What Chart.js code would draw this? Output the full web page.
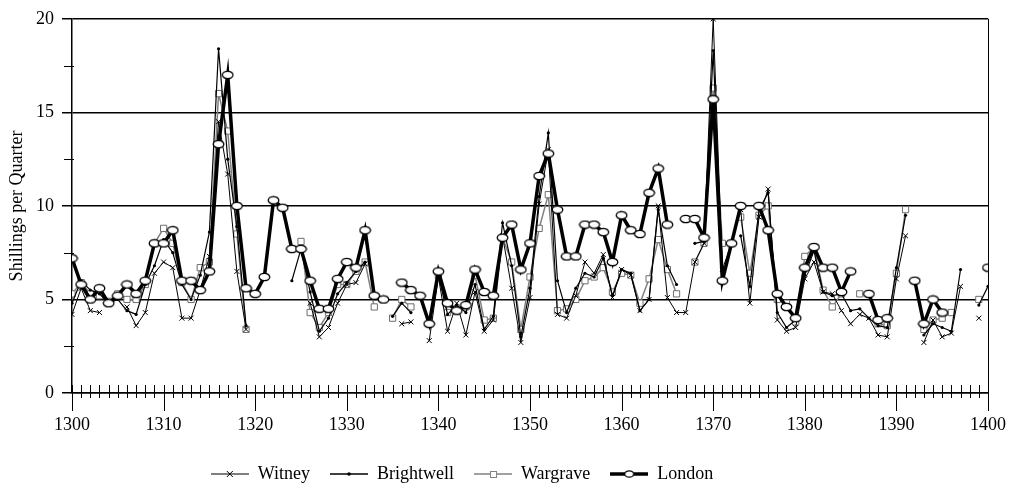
<!DOCTYPE html>
<html>
<head>
<meta charset="utf-8">
<script src="https://cdn.jsdelivr.net/npm/chart.js@4.4.1/dist/chart.umd.min.js"></script>
<style>
html,body{margin:0;padding:0;background:#fff;}
#wrap{width:1015px;height:487px;position:relative;}
#probe{position:absolute;left:-9999px;top:0;font-family:'Liberation Serif';font-size:18px;}
</style>
</head>
<body>
<div id="probe">Shillings per Quarter 1300 Witney</div>
<div id="wrap"><canvas id="c"></canvas></div>
<script>
const years = [1300,1301,1302,1303,1304,1305,1306,1307,1308,1309,
1310,1311,1312,1313,1314,1315,1316,1317,1318,1319,
1320,1321,1322,1323,1324,1325,1326,1327,1328,1329,
1330,1331,1332,1333,1334,1335,1336,1337,1338,1339,
1340,1341,1342,1343,1344,1345,1346,1347,1348,1349,
1350,1351,1352,1353,1354,1355,1356,1357,1358,1359,
1360,1361,1362,1363,1364,1365,1366,1367,1368,1369,
1370,1371,1372,1373,1374,1375,1376,1377,1378,1379,
1380,1381,1382,1383,1384,1385,1386,1387,1388,1389,
1390,1391,1392,1393,1394,1395,1396,1397,1398,1399,1400];

const witney = [4.2,5.6,4.4,4.3,null,null,4.6,3.6,4.3,6.4,
7.0,6.7,4.0,4.0,5.5,7.3,14.5,11.7,6.5,3.4,
null,null,null,null,null,null,4.8,3.0,3.5,4.8,
5.8,5.9,6.9,null,null,null,3.7,3.8,null,2.8,
6.2,3.3,4.8,3.1,5.4,3.3,3.9,8.4,5.6,2.7,
5.1,10.1,13.0,4.2,4.0,5.2,7.0,6.4,7.4,5.1,
6.6,6.3,4.4,5.0,10.0,5.1,4.3,4.3,7.0,8.0,
20.0,6.6,8.0,9.8,4.8,9.4,10.9,3.9,3.3,3.5,
6.1,7.0,5.4,5.3,4.4,3.7,4.2,4.0,3.1,3.0,
6.1,8.4,null,2.7,3.9,3.0,3.2,5.7,null,4.0,null];

const brightwell = [4.8,6.0,5.5,5.3,4.8,5.0,4.4,4.2,5.8,6.8,
8.2,7.5,5.8,5.0,6.3,8.6,18.4,12.5,8.9,3.6,
null,null,null,null,6.0,7.7,5.4,3.3,4.0,5.3,
5.9,6.5,7.0,null,null,4.1,4.8,4.3,null,null,
6.3,4.2,4.7,4.3,5.8,3.4,4.1,9.1,6.8,3.0,
5.6,10.5,13.9,6.0,4.3,5.6,6.4,6.2,7.2,5.2,
6.6,6.4,4.4,5.0,9.8,6.8,5.8,null,8.0,8.1,
18.3,6.7,null,8.4,5.7,9.8,10.7,4.3,3.5,3.9,
6.3,7.6,5.4,5.2,5.3,4.4,4.5,4.0,3.6,3.5,
6.7,9.5,null,3.1,3.7,3.5,3.3,6.6,null,4.7,5.7];

const wargrave = [5.3,5.9,5.3,5.2,4.9,5.3,5.0,5.0,5.8,8.0,
8.8,8.0,5.9,5.0,6.7,7.0,16.0,14.0,8.5,3.4,
null,null,null,null,null,8.1,4.3,3.5,4.3,5.8,
5.8,6.5,7.0,4.6,null,4.0,5.0,4.6,null,null,
6.3,4.3,4.4,4.6,6.3,3.9,4.0,8.3,7.0,3.4,
6.2,8.8,10.6,4.4,4.5,5.0,6.0,6.2,6.7,5.4,
6.4,6.3,4.8,6.1,8.2,6.6,5.3,null,7.0,8.0,
16.3,8.0,null,9.4,6.4,9.5,10.0,5.0,4.8,3.8,
7.3,7.8,5.5,4.6,5.3,null,5.3,null,3.7,3.6,
6.4,9.8,null,3.4,3.9,4.0,4.3,null,null,5.0,null];

const london = [7.2,5.8,5.0,5.6,4.8,5.2,5.8,5.3,6.0,8.0,
8.0,8.7,6.0,6.0,5.5,6.5,13.3,17.0,10.0,5.6,
5.3,6.2,10.3,9.9,7.7,7.7,6.0,4.5,4.5,6.1,
7.0,6.7,8.7,5.2,5.0,null,5.9,5.5,5.2,3.7,
6.5,4.8,4.4,4.7,6.6,5.4,5.2,8.3,9.0,6.6,
8.0,11.6,12.8,9.8,7.3,7.3,9.0,9.0,8.6,7.0,
9.5,8.7,8.5,10.7,12.0,9.0,null,9.3,9.3,8.3,
15.7,6.0,8.0,10.0,null,10.0,8.7,5.3,4.6,4.0,
6.7,7.8,6.7,6.7,5.4,6.5,null,5.3,3.9,4.0,
null,null,6.0,3.7,5.0,4.3,null,null,null,null,6.7];

const seriesNames = ['Witney','Brightwell','Wargrave','London'];
const yMajorTicks = [0,5,10,15,20];
const yMinorTicks = [2.5,7.5,12.5,17.5];
const yTitle = 'Shillings per Quarter';

const FONT = "'Liberation Serif', 'Times New Roman', Times, serif";
const GRAY = '#808080';

function pts(arr){ return years.map((yr,i)=>({x:yr, y:arr[i]})); }

function makeCanvas(w,h,draw){
  const c=document.createElement('canvas'); c.width=w; c.height=h;
  draw(c.getContext('2d'),w,h); return c;
}
const londonMarker = makeCanvas(13,10,(g,w,h)=>{
  g.beginPath(); g.ellipse(w/2,h/2,5.3,3.7,0,0,Math.PI*2);
  g.fillStyle='#fff'; g.fill(); g.lineWidth=1.3; g.strokeStyle='#000'; g.stroke();
});
function legendIcon(kind){
  return makeCanvas(38,12,(g,w,h)=>{
    const cy=h/2;
    g.beginPath(); g.moveTo(0,cy); g.lineTo(w,cy);
    if(kind==='Witney'){ g.strokeStyle='#000'; g.lineWidth=1.2; g.stroke();
      g.beginPath(); g.moveTo(w/2-3,cy-3); g.lineTo(w/2+3,cy+3); g.moveTo(w/2-3,cy+3); g.lineTo(w/2+3,cy-3); g.lineWidth=1; g.stroke(); }
    if(kind==='Brightwell'){ g.strokeStyle='#000'; g.lineWidth=1.4; g.stroke();
      g.beginPath(); g.arc(w/2,cy,1.8,0,Math.PI*2); g.fillStyle='#000'; g.fill(); }
    if(kind==='Wargrave'){ g.strokeStyle=GRAY; g.lineWidth=1.6; g.stroke();
      g.fillStyle='#fff'; g.fillRect(w/2-3,cy-3,6,6); g.lineWidth=1; g.strokeRect(w/2-3+0.5,cy-3+0.5,6,6); }
    if(kind==='London'){ g.strokeStyle='#000'; g.lineWidth=3.5; g.stroke();
      g.beginPath(); g.ellipse(w/2,cy,4.5,3.2,0,0,Math.PI*2); g.fillStyle='#fff'; g.fill(); g.lineWidth=1.3; g.stroke(); }
  });
}
const icons = {};
seriesNames.forEach(n=>icons[n]=legendIcon(n));

const decor = {
  id:'decor',
  afterLayout(chart){
    const lg = chart.legend;
    if(lg){ lg.top += 6; lg.bottom += 6; lg.left -= 32; lg.right -= 32; }
  },
  afterDraw(chart){
    const {ctx, chartArea:a, scales:{x,y}} = chart;
    ctx.save();
    ctx.strokeStyle='#000'; ctx.lineWidth=1;
    ctx.beginPath();
    ctx.moveTo(Math.round(a.right)+0.5, a.top); ctx.lineTo(Math.round(a.right)+0.5, a.bottom);
    years.forEach(yr=>{
      const px = Math.round(x.getPixelForValue(yr))+0.5;
      const major = (yr % 10 === 0);
      ctx.moveTo(px, a.bottom-8); ctx.lineTo(px, major ? a.bottom+18 : a.bottom+5);
    });
    yMinorTicks.forEach(v=>{
      const py = Math.round(y.getPixelForValue(v))+0.5;
      ctx.moveTo(a.left-8, py); ctx.lineTo(a.left+2, py);
    });
    ctx.stroke();
    ctx.restore();
  }
};

function build(){
  Chart.defaults.font.family = FONT;
  new Chart(document.getElementById('c'), {
    type:'line',
    data:{
      datasets:[
        {label:seriesNames[0], data:pts(witney), borderColor:'#000', borderWidth:1, pointStyle:'crossRot', pointRadius:3.5, pointBorderWidth:1, pointBorderColor:'#000', pointBackgroundColor:'#000', order:1},
        {label:seriesNames[1], data:pts(brightwell), borderColor:'#000', borderWidth:1.2, pointStyle:'circle', pointRadius:1.6, pointBorderWidth:0, pointBackgroundColor:'#000', order:1},
        {label:seriesNames[2], data:pts(wargrave), borderColor:GRAY, borderWidth:1.5, pointStyle:'rect', pointRadius:4.4, pointBorderWidth:1, pointBorderColor:'#6e6e6e', pointBackgroundColor:'#fff', order:2},
        {label:seriesNames[3], data:pts(london), borderColor:'#000', borderWidth:3.5, pointStyle:londonMarker, pointRadius:5, order:0}
      ]
    },
    options:{
      responsive:true, maintainAspectRatio:false, animation:false,
      spanGaps:false,
      elements:{line:{tension:0}},
      layout:{padding:{left:0,right:27,top:16,bottom:0}},
      plugins:{
        tooltip:{enabled:false},
        legend:{
          position:'bottom',
          labels:{
            usePointStyle:true, pointStyleWidth:38, padding:20,
            font:{family:FONT,size:18}, color:'#000',
            sort:(a,b)=>a.datasetIndex-b.datasetIndex,
            generateLabels:(chart)=>chart.data.datasets.map((d,i)=>({
              text:d.label, pointStyle:icons[d.label], datasetIndex:i, hidden:false,
              fillStyle:'transparent', strokeStyle:'transparent', lineWidth:0, fontColor:'#000'
            }))
          }
        }
      },
      scales:{
        x:{
          type:'linear', min:1300, max:1400,
          afterFit:(s)=>{ s.height = 46; },
          border:{display:true,color:'#000',width:1.5},
          grid:{display:true, drawOnChartArea:false, color:'transparent', tickColor:'transparent', tickLength:18},
          ticks:{stepSize:10, padding:3, color:'#000', font:{family:FONT,size:18}, maxRotation:0,
            callback:(v)=>String(v)}
        },
        y:{
          min:0, max:20,
          afterFit:(s)=>{ s.width = 72; },
          afterBuildTicks:(s)=>{ s.ticks = yMajorTicks.map(v=>({value:v})); },
          border:{display:true,color:'#000',width:1.5},
          grid:{display:true, color:'#000', lineWidth:1.5, tickColor:'#000', tickLength:10, drawTicks:true},
          ticks:{padding:8, color:'#000', font:{family:FONT,size:18}},
          title:{display:true, text:yTitle, color:'#000', font:{family:FONT,size:18}, padding:{top:6,bottom:0}}
        }
      }
    },
    plugins:[decor]
  });
}
if (document.fonts && document.fonts.load) {
  document.fonts.load("18px 'Liberation Serif'").then(build, build);
} else { build(); }
</script>
</body>
</html>
